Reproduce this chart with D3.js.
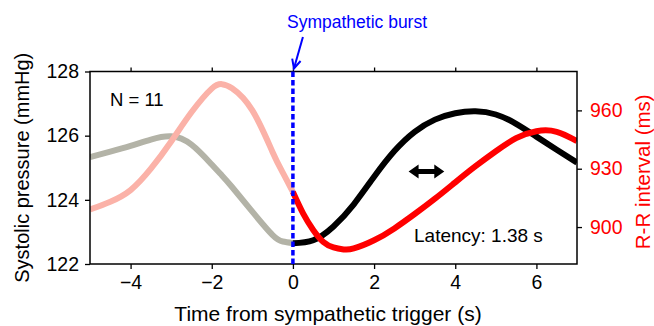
<!DOCTYPE html>
<html>
<head>
<meta charset="utf-8">
<script src="https://cdn.jsdelivr.net/npm/d3@7"></script>
<style>
  body { margin: 0; background: #fff; }
  text { font-family: "Liberation Sans", Arial, sans-serif; }
</style>
</head>
<body>
<div id="chart"></div>
<script>
// pre-trigger (faded) and post-trigger segments, time in s
const timeBefore = [-5, -4.5, -4, -3.5, -3, -2.5, -2, -1.75, -1.5, -1, -0.5, -0.25, 0];
const systolicBefore = [125.33, 125.5, 125.68, 125.88, 125.98, 125.72, 125.1, 124.76, 124.4, 123.63, 122.9, 122.7, 122.65];
const rrBefore = [909, 913, 919, 930, 944, 959, 971.2, 973.5, 971.4, 960, 938.5, 928, 918];

const timeSys = [0, 0.5, 1, 1.5, 2, 2.5, 3, 3.5, 4, 4.5, 5, 5.5, 6, 6.5, 7];
const systolicAfter = [122.65, 122.74, 123.17, 123.86, 124.72, 125.52, 126.12, 126.5, 126.7, 126.76, 126.66, 126.37, 125.97, 125.56, 125.16];

const timeRR = [0, 0.25, 0.5, 0.75, 1, 1.25, 1.5, 2, 2.5, 3, 3.5, 4, 4.5, 5, 5.5, 6, 6.5, 7];
const rrAfter = [918, 907, 898.5, 892.3, 889.5, 888.5, 889, 893.2, 899.3, 906.7, 914.6, 923, 931.3, 939, 945.7, 949.3, 949.0, 944.2];

const xTicks = [-4, -2, 0, 2, 4, 6];
const sysTicks = [122, 124, 126, 128];
const rrTicks = [900, 930, 960];

const width = 654, height = 326;
const margin = { top: 71.5, right: 77, bottom: 62, left: 90 };

const svg = d3.select("#chart").append("svg")
  .attr("width", width)
  .attr("height", height);

const x = d3.scaleLinear().domain([-5, 7]).range([margin.left, width - margin.right]);
const ySys = d3.scaleLinear().domain([122, 128]).range([height - margin.bottom, margin.top]);
const yRR = d3.scaleLinear().domain([881, 980]).range([height - margin.bottom, margin.top]);

const x0 = margin.left, x1 = width - margin.right;
const y0 = margin.top, y1 = height - margin.bottom;

// clip so the thick lines end flush with the frame
svg.append("clipPath").attr("id", "clip")
  .append("rect").attr("x", x0).attr("y", y0).attr("width", x1 - x0).attr("height", y1 - y0);

const plot = svg.append("g").attr("clip-path", "url(#clip)");

function drawLine(times, vals, yScale, color) {
  const line = d3.line()
    .x((d, i) => x(times[i]))
    .y(d => yScale(d))
    .curve(d3.curveNatural);
  plot.append("path")
    .datum(vals)
    .attr("d", line)
    .attr("fill", "none")
    .attr("stroke", color)
    .attr("stroke-width", 6)
    .attr("stroke-linecap", "butt");
}

drawLine(timeBefore, systolicBefore, ySys, "#b3b3a7");
drawLine(timeBefore, rrBefore, yRR, "#fbb2a8");
drawLine(timeSys, systolicAfter, ySys, "#000000");
drawLine(timeRR, rrAfter, yRR, "#ff0000");

// frame
svg.append("rect")
  .attr("x", x0).attr("y", y0)
  .attr("width", x1 - x0).attr("height", y1 - y0)
  .attr("fill", "none").attr("stroke", "#000").attr("stroke-width", 1.5);

// bottom axis
const xAxis = svg.append("g")
  .attr("transform", `translate(0,${y1})`)
  .call(d3.axisBottom(x).tickValues(xTicks).tickSize(5).tickPadding(6).tickFormat(d => d < 0 ? "\u2212" + Math.abs(d) : d));
xAxis.select(".domain").remove();

// top ticks
svg.append("g")
  .attr("transform", `translate(0,${y0})`)
  .call(d3.axisTop(x).tickValues(xTicks).tickSize(4).tickFormat(""))
  .select(".domain").remove();

// left axis
const leftAxis = svg.append("g")
  .attr("transform", `translate(${x0},0)`)
  .call(d3.axisLeft(ySys).tickValues(sysTicks).tickSize(5).tickPadding(6).tickFormat(d3.format("d")));
leftAxis.select(".domain").remove();

// right axis
const rightAxis = svg.append("g")
  .attr("transform", `translate(${x1},0)`)
  .call(d3.axisRight(yRR).tickValues(rrTicks).tickSize(5).tickPadding(8));
rightAxis.select(".domain").remove();
rightAxis.selectAll("text").attr("fill", "#ff0000");

svg.selectAll(".tick line").attr("stroke", "#000").attr("stroke-width", 1.3);
svg.selectAll(".tick text").style("font-size", "19.5px").style("font-family", "'Liberation Sans', Arial, sans-serif");

// axis titles
svg.append("text")
  .attr("transform", `translate(29,${(y0 + y1) / 2}) rotate(-90)`)
  .attr("text-anchor", "middle")
  .style("font-size", "20px")
  .text("Systolic pressure (mmHg)");

svg.append("text")
  .attr("transform", `translate(650,${(y0 + y1) / 2 + 4}) rotate(-90)`)
  .attr("text-anchor", "middle")
  .attr("fill", "#ff0000")
  .style("font-size", "20.5px")
  .text("R-R interval (ms)");

svg.append("text")
  .attr("x", 328)
  .attr("y", 321)
  .attr("text-anchor", "middle")
  .style("font-size", "21px")
  .text("Time from sympathetic trigger (s)");

// sympathetic burst marker
svg.append("line")
  .attr("x1", x(0)).attr("x2", x(0))
  .attr("y1", y0).attr("y2", y1)
  .attr("stroke", "#0000ff")
  .attr("stroke-width", 3.5)
  .attr("stroke-dasharray", "5.5,3");

const tip = [x(0) + 1, y0 - 3];
const start = [x(0) + 10, 37];
svg.append("line")
  .attr("x1", start[0]).attr("y1", start[1])
  .attr("x2", tip[0]).attr("y2", tip[1])
  .attr("stroke", "#0000ff").attr("stroke-width", 2);
const ang = Math.atan2(start[1] - tip[1], start[0] - tip[0]);
const wing = 10;
svg.append("path")
  .attr("d", d3.line()([
    [tip[0] + wing * Math.cos(ang - 0.45), tip[1] + wing * Math.sin(ang - 0.45)],
    tip,
    [tip[0] + wing * Math.cos(ang + 0.45), tip[1] + wing * Math.sin(ang + 0.45)]
  ]))
  .attr("fill", "none").attr("stroke", "#0000ff").attr("stroke-width", 2);

svg.append("text")
  .attr("x", 287).attr("y", 28)
  .attr("fill", "#0000ff")
  .style("font-size", "17.5px")
  .text("Sympathetic burst");

// annotations
svg.append("text")
  .attr("x", 110).attr("y", 106)
  .style("font-size", "18.5px")
  .text("N = 11");

svg.append("text")
  .attr("x", 414).attr("y", 242)
  .style("font-size", "19px")
  .text("Latency: 1.38 s");

// double-headed latency arrow
const ax0 = x(2.85), ax1 = x(3.73), ay = ySys(124.88);
const hl = 10, hh = 7, sh = 2.5;
svg.append("path")
  .attr("d", d3.line()([
    [ax0, ay], [ax0 + hl, ay - hh], [ax0 + hl, ay - sh], [ax1 - hl, ay - sh], [ax1 - hl, ay - hh],
    [ax1, ay], [ax1 - hl, ay + hh], [ax1 - hl, ay + sh], [ax0 + hl, ay + sh], [ax0 + hl, ay + hh]
  ]) + "Z")
  .attr("fill", "#000");
</script>
</body>
</html>
